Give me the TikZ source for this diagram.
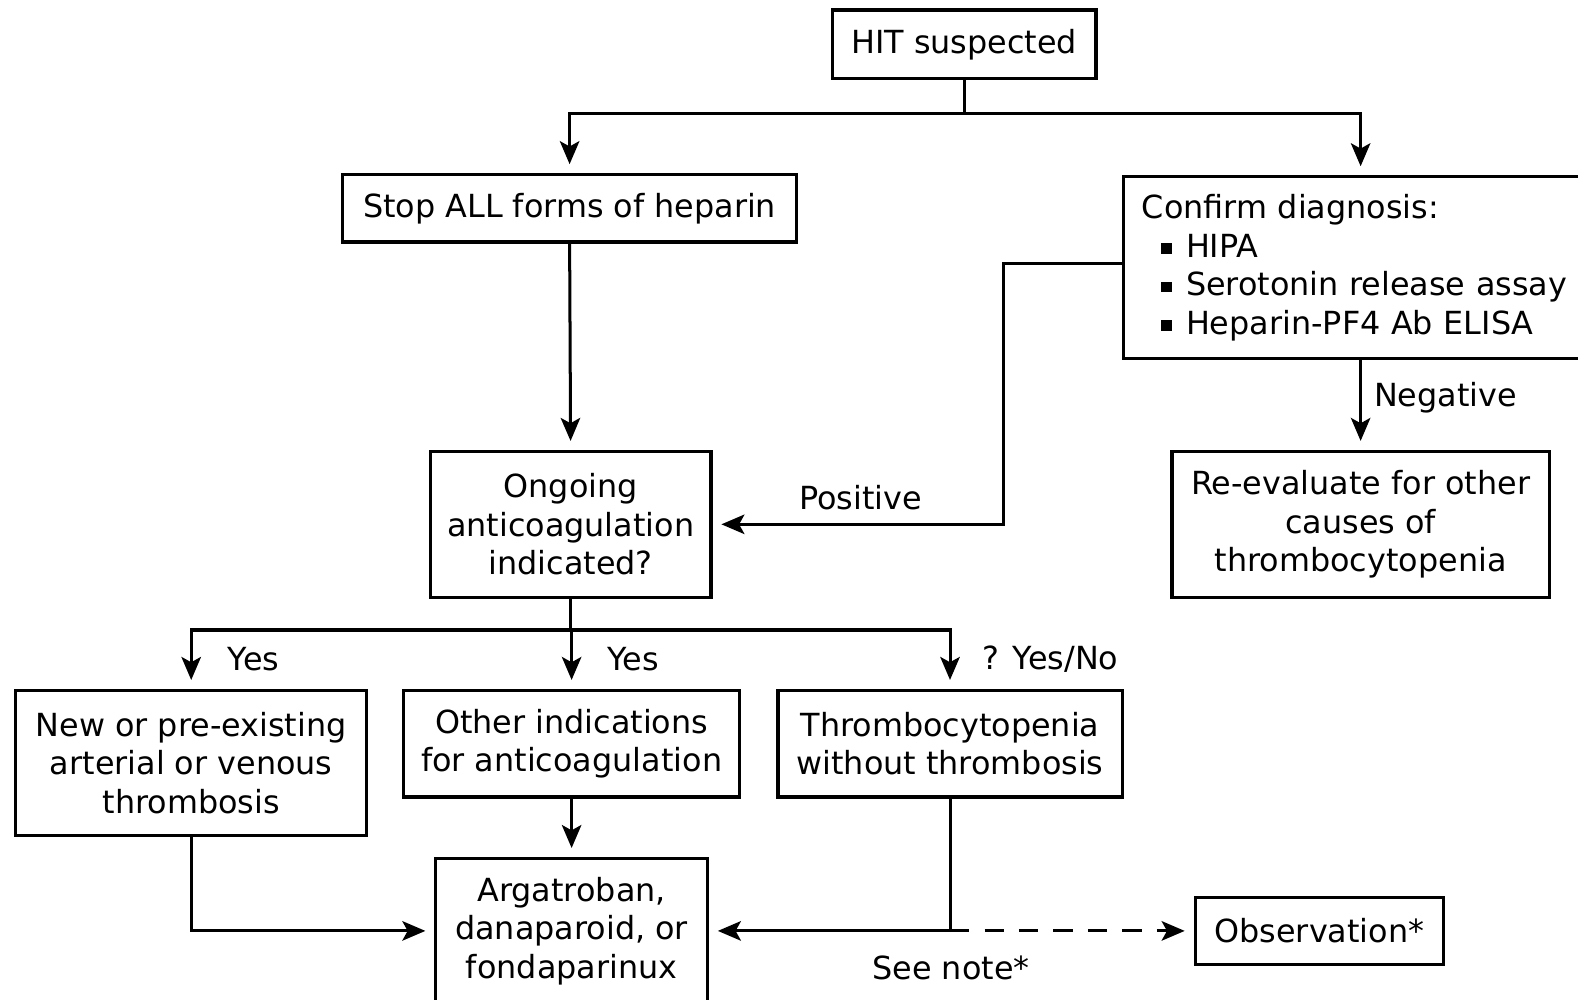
\documentclass[tikz,border=0pt]{standalone}
\usepackage{fontspec}
\setmainfont{DejaVu Sans}
\usetikzlibrary{arrows.meta}

\tikzset{
    box/.style={draw, line width=1.8pt, align=center, inner sep=0pt},
    arr/.style={line width=1.7pt, -{Stealth[length=13pt, width=11pt, inset=3pt]}, shorten >=5pt},
    link/.style={line width=1.7pt},
    lbl/.style={inner sep=0pt}
}

\newcommand{\sqbullet}{\hspace*{11pt}\rule[2pt]{6pt}{6pt}\hspace{8pt}}

\begin{document}
\begin{tikzpicture}[x=0.02cm, y=-0.02cm, font=\fontsize{18}{21.8}\selectfont]
    \useasboundingbox (0, 0) rectangle (1568, 993);

    \node[box, minimum width=5.24cm, minimum height=1.36cm] (hit) at (958, 44) {HIT suspected};

    \node[box, minimum width=9.02cm, minimum height=1.34cm] (stop) at (566, 207) {Stop ALL forms of heparin};

    \node[box, anchor=north west, align=left, text width=8.68cm, inner xsep=0.36cm, minimum height=3.62cm] (confirm) at (1115, 174) {Confirm diagnosis:\\
        \sqbullet HIPA\\
        \sqbullet Serotonin release assay\\
        \sqbullet Heparin-PF4 Ab ELISA};

    \node[box, minimum width=5.58cm, minimum height=2.9cm] (ongoing) at (567, 521) {Ongoing\\anticoagulation\\indicated?};

    \node[box, minimum width=7.5cm, minimum height=2.9cm] (reeval) at (1352, 521) {Re-evaluate for other\\causes of\\thrombocytopenia};

    \node[box, minimum width=6.98cm, minimum height=2.88cm] (thromb) at (190, 758) {New or pre-existing\\arterial or venous\\thrombosis};

    \node[box, minimum width=6.68cm, minimum height=2.12cm] (other) at (568, 739) {Other indications\\for anticoagulation};

    \node[box, minimum width=6.84cm, minimum height=2.12cm] (tcp) at (944, 739) {Thrombocytopenia\\without thrombosis};

    \node[box, minimum width=5.4cm, minimum height=2.88cm] (argat) at (568, 925) {Argatroban,\\danaparoid, or\\fondaparinux};

    \node[box, minimum width=4.94cm, minimum height=1.32cm] (obs) at (1311, 925) {Observation*};

    % top split
    \coordinate (topsplit) at (958, 113);
    \draw[link] (hit.south) -- (topsplit);
    \draw[arr] (topsplit) -| (stop.north);
    \draw[arr] (topsplit) -| (reeval.north |- confirm.north);

    \draw[arr] (stop.south) -- (ongoing.north);

    % confirmation results
    \coordinate (posbend) at (997, 521);
    \draw[arr] (confirm.west |- 0, 262) -| (posbend) -- (ongoing.east);
    \node[lbl] (positive) at (855, 494) {Positive};

    \draw[arr] (reeval.north |- confirm.south) -- (reeval.north);
    \node[lbl, anchor=west] (negative) at (1365, 395) {Negative};

    % indication split
    \coordinate (midsplit) at (567, 626);
    \draw[link] (ongoing.south) -- (midsplit);
    \draw[arr] (midsplit) -| (thromb.north);
    \draw[arr] (midsplit) -| (other.north);
    \draw[arr] (midsplit) -| (tcp.north);
    \node[lbl, anchor=west] (yesa) at (226, 655) {Yes};
    \node[lbl, anchor=west] (yesb) at (603, 655) {Yes};
    \node[lbl, anchor=west] (yesno) at (976, 655) {? Yes/No};

    \draw[arr] (other.south) -- (argat.north);
    \draw[arr] (thromb.south) |- (argat.west);
    \draw[arr] (tcp.south) |- (argat.east);

    \coordinate (obsturn) at (tcp.south |- argat.east);
    \draw[arr, dash pattern=on 11pt off 8.5pt] (obsturn) -- (obs.west);
    \node[lbl] (seenote) at (945, 962) {See note*};
\end{tikzpicture}
\end{document}
